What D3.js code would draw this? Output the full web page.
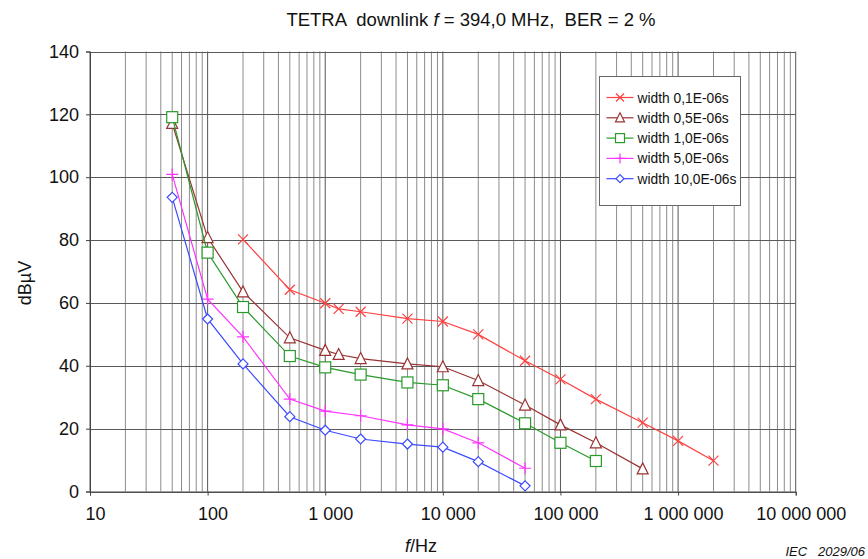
<!DOCTYPE html>
<html>
<head>
<meta charset="utf-8">
<script src="https://cdn.jsdelivr.net/npm/d3@7"></script>
<style>
  html, body { margin: 0; padding: 0; background: #fff; }
  svg { display: block; font-family: "Liberation Sans", Arial, sans-serif; }
</style>
</head>
<body>
<svg id="chart" width="868" height="559"></svg>
<script>
// Pulse widths (legend) and measured immunity thresholds in dBµV vs repetition frequency
const seriesNames = ["width 0,1E-06s", "width 0,5E-06s", "width 1,0E-06s", "width 5,0E-06s", "width 10,0E-06s"];
const seriesColors = ["#ff4040", "#993333", "#2a9a2a", "#ff33ff", "#3b4bff"];
const seriesMarkers = ["x", "triangle", "square", "plus", "diamond"];

const freqW01 = [200, 500, 1000, 1300, 2000, 5000, 10000, 20000, 50000, 100000, 200000, 500000, 1000000, 2000000];
const valsW01 = [80.2, 64.2, 59.9, 58.1, 57.2, 55.0, 54.1, 50.0, 41.6, 35.7, 29.4, 21.9, 16.1, 9.8];

const freqW05 = [50, 100, 200, 500, 1000, 1300, 2000, 5000, 10000, 20000, 50000, 100000, 200000, 500000];
const valsW05 = [117.1, 80.8, 63.5, 48.9, 44.9, 43.6, 42.3, 40.6, 39.7, 35.3, 27.5, 21.2, 15.5, 7.2];

const freqW10 = [50, 100, 200, 500, 1000, 2000, 5000, 10000, 20000, 50000, 100000, 200000];
const valsW10 = [119.1, 76.0, 58.7, 43.1, 39.5, 37.2, 34.7, 33.8, 29.4, 21.7, 15.5, 9.7];

const freqW50 = [50, 100, 200, 500, 1000, 2000, 5000, 10000, 20000, 50000];
const valsW50 = [100.9, 61.2, 49.2, 29.4, 25.6, 24.1, 21.2, 19.9, 15.5, 7.4];

const freqW100 = [50, 100, 200, 500, 1000, 2000, 5000, 10000, 20000, 50000];
const valsW100 = [93.6, 54.9, 40.6, 23.8, 19.5, 16.7, 15.1, 14.1, 9.5, 1.8];

const yTicks = [0, 20, 40, 60, 80, 100, 120, 140];
const xTickValues = [10, 100, 1000, 10000, 100000, 1000000, 10000000];
const xTickLabels = ["10", "100", "1 000", "10 000", "100 000", "1 000 000", "10 000 000"];

const titleText = ["TETRA  downlink ", "f", " = 394,0 MHz,  BER = 2 %"];

const freqs = [freqW01, freqW05, freqW10, freqW50, freqW100];
const vals = [valsW01, valsW05, valsW10, valsW50, valsW100];
const series = seriesNames.map((name, i) => ({
  name, color: seriesColors[i], marker: seriesMarkers[i],
  points: freqs[i].map((f, j) => ({ f, v: vals[i][j] }))
}));

const svg = d3.select("#chart");
const plotLeft = 90, plotRight = 795.7, plotTop = 51.5, plotBottom = 491.5;

const x = d3.scaleLog().domain([10, 10000000]).range([plotLeft, plotRight]);
const y = d3.scaleLinear().domain([0, 140]).range([plotBottom, plotTop]);

// vertical grid: minor log lines (2..9 of each decade) and decade lines
const minor = [], major = [];
for (let d = 10; d < 10000000; d *= 10) {
  for (let k = 2; k <= 9; k++) minor.push(d * k);
}
for (let d = 10; d <= 10000000; d *= 10) major.push(d);

svg.append("g").selectAll("line").data(minor).join("line")
  .attr("x1", d => x(d)).attr("x2", d => x(d))
  .attr("y1", plotTop).attr("y2", plotBottom)
  .attr("stroke", "#8c8c8c").attr("stroke-width", 1);
svg.append("g").selectAll("line").data(major).join("line")
  .attr("x1", d => x(d)).attr("x2", d => x(d))
  .attr("y1", plotTop).attr("y2", plotBottom)
  .attr("stroke", "#555").attr("stroke-width", 1);

// horizontal grid
svg.append("g").selectAll("line").data(yTicks).join("line")
  .attr("x1", plotLeft).attr("x2", plotRight)
  .attr("y1", d => Math.round(y(d)) + 0.5).attr("y2", d => Math.round(y(d)) + 0.5)
  .attr("stroke", "#5a5a5a").attr("stroke-width", 1);

// y axis
const yAxis = svg.append("g").attr("transform", `translate(${plotLeft},0)`)
  .call(d3.axisLeft(y).tickValues(yTicks).tickSize(4).tickPadding(7));
yAxis.selectAll("text").attr("font-size", 18).attr("fill", "#111")
  .attr("font-family", "Liberation Sans, Arial, sans-serif");
yAxis.selectAll("line, path").attr("stroke", "#444");

// x axis
const xAxis = svg.append("g").attr("transform", `translate(0,${plotBottom})`)
  .call(d3.axisBottom(x).tickValues(xTickValues)
    .tickFormat((d, i) => xTickLabels[i]).tickSize(4).tickPadding(12));
xAxis.selectAll("text").attr("font-size", 18).attr("fill", "#111")
  .attr("font-family", "Liberation Sans, Arial, sans-serif")
  .attr("dx", 5);
xAxis.selectAll("line, path").attr("stroke", "#444");

// marker shapes
function drawMarker(g, type, color, s) {
  if (type === "x") {
    g.append("path").attr("d", `M${-s},${-s}L${s},${s}M${-s},${s}L${s},${-s}`)
      .attr("stroke", color).attr("fill", "none");
  } else if (type === "triangle") {
    g.append("path").attr("d", `M0,${-s - 1}L${s + 0.5},${s}L${-s - 0.5},${s}Z`)
      .attr("stroke", color).attr("fill", "#fff");
  } else if (type === "square") {
    g.append("rect").attr("x", -s).attr("y", -s).attr("width", 2 * s).attr("height", 2 * s)
      .attr("stroke", color).attr("fill", "#fff");
  } else if (type === "plus") {
    g.append("path").attr("d", `M${-s - 1},0L${s + 1},0M0,${-s - 1}L0,${s + 1}`)
      .attr("stroke", color).attr("fill", "none");
  } else if (type === "diamond") {
    g.append("path").attr("d", `M0,${-s}L${s},0L0,${s}L${-s},0Z`)
      .attr("stroke", color).attr("fill", "#fff");
  }
}
const markerSize = { x: 5, triangle: 5, square: 5.5, plus: 5, diamond: 5 };

const line = d3.line().x(d => x(d.f)).y(d => y(d.v));

series.forEach(s => {
  const g = svg.append("g");
  g.append("path").datum(s.points).attr("d", line)
    .attr("fill", "none").attr("stroke", s.color).attr("stroke-width", 1.2);
  s.points.forEach(p => {
    const m = g.append("g").attr("transform", `translate(${x(p.f)},${y(p.v)})`)
      .attr("stroke-width", 1.2);
    drawMarker(m, s.marker, s.color, markerSize[s.marker]);
  });
});

// legend
const lg = svg.append("g").attr("transform", "translate(599.5,76.5)");
lg.append("rect").attr("width", 141).attr("height", 129)
  .attr("fill", "#fff").attr("stroke", "#666").attr("stroke-width", 1);
series.forEach((s, i) => {
  const yy = 21 + i * 20.3;
  const row = lg.append("g").attr("transform", `translate(0,${yy})`);
  row.append("line").attr("x1", 7).attr("x2", 34).attr("y1", 0).attr("y2", 0)
    .attr("stroke", s.color).attr("stroke-width", 1.2);
  const m = row.append("g").attr("transform", "translate(20.5,0)").attr("stroke-width", 1.2);
  drawMarker(m, s.marker, s.color, s.marker === "square" ? 4.5 : 4);
  row.append("text").attr("x", 38).attr("y", 5).attr("font-size", 13.8)
    .attr("fill", "#111").text(s.name);
});

// title
const title = svg.append("text").attr("x", 471).attr("y", 26)
  .attr("text-anchor", "middle").attr("font-size", 18.5).attr("fill", "#111")
  .style("white-space", "pre");
title.append("tspan").text(titleText[0]);
title.append("tspan").attr("font-style", "italic").text(titleText[1]);
title.append("tspan").text(titleText[2]);

// axis titles
svg.append("text").attr("transform", "translate(31,283) rotate(-90)")
  .attr("text-anchor", "middle").attr("font-size", 18).attr("fill", "#111").text("dBµV");

const xt = svg.append("text").attr("x", 421).attr("y", 552)
  .attr("text-anchor", "middle").attr("font-size", 18).attr("fill", "#111");
xt.append("tspan").attr("font-style", "italic").text("f");
xt.append("tspan").text("/Hz");

svg.append("text").attr("x", 865).attr("y", 556).attr("text-anchor", "end")
  .attr("font-size", 13).attr("font-style", "italic").attr("fill", "#111")
  .style("white-space", "pre").text("IEC   2029/06");
</script>
</body>
</html>
